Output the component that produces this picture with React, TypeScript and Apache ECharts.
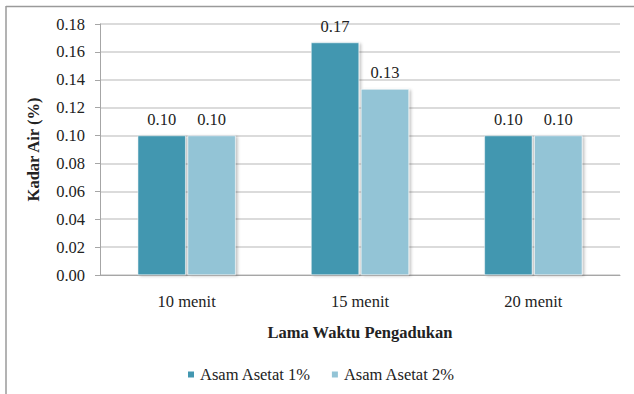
import React, { useEffect, useRef } from "react";
import * as echarts from "echarts";

// Mixing time categories and moisture content (%) for each acetic acid level
const categories = ["10 menit", "15 menit", "20 menit"];
const asamAsetat1 = [0.1, 0.1667, 0.1];
const asamAsetat2 = [0.1, 0.1333, 0.1];
const seriesNames = ["Asam Asetat 1%", "Asam Asetat 2%"];
const yTicks = { min: 0, max: 0.18, interval: 0.02 };

const FONT = "Liberation Serif";
const FS = 16.5;
const DARK = "#4397B0";
const LIGHT = "#93C4D6";

export default function App() {
  const ref = useRef<HTMLDivElement>(null);

  useEffect(() => {
    if (!ref.current) return;
    const chart = echarts.init(ref.current, undefined, { renderer: "svg" });

    const barStyle = (color: string) => ({
      color,
      borderColor: "#ffffff",
      borderWidth: 0.5,
      shadowColor: "rgba(0,0,0,0.25)",
      shadowBlur: 3,
      shadowOffsetX: 2,
      shadowOffsetY: 1,
    });

    const label = {
      show: true,
      position: "top" as const,
      distance: 8,
      fontFamily: FONT,
      fontSize: FS,
      color: "#222",
      formatter: (p: any) => Number(p.value).toFixed(2),
    };

    chart.setOption({
      animation: false,
      backgroundColor: "#ffffff",
      textStyle: { fontFamily: FONT },
      grid: { left: 100, right: 14, top: 24, bottom: 119 },
      legend: {
        data: seriesNames,
        left: 181,
        top: 361,
        itemWidth: 8,
        itemHeight: 8,
        itemGap: 19,
        icon: "rect",
        textStyle: { fontFamily: FONT, fontSize: FS, color: "#222" },
      },
      xAxis: {
        type: "category",
        data: categories,
        name: "Lama Waktu Pengadukan",
        nameLocation: "middle",
        nameGap: 49,
        nameTextStyle: { fontFamily: FONT, fontSize: FS, fontWeight: "bold", color: "#222" },
        axisLine: { lineStyle: { color: "#a6a6a6", width: 1 } },
        axisTick: { show: false },
        axisLabel: { margin: 18, fontFamily: FONT, fontSize: FS, color: "#222" },
      },
      yAxis: {
        type: "value",
        min: yTicks.min,
        max: yTicks.max,
        interval: yTicks.interval,
        name: "Kadar Air (%)",
        nameLocation: "middle",
        nameGap: 58,
        nameTextStyle: { fontFamily: FONT, fontSize: FS, fontWeight: "bold", color: "#222" },
        axisLine: { show: true, lineStyle: { color: "#a6a6a6", width: 1 } },
        axisTick: { show: true, length: 5, lineStyle: { color: "#a6a6a6" } },
        axisLabel: {
          margin: 15,
          fontFamily: FONT,
          fontSize: FS,
          color: "#222",
          formatter: (v: number) => v.toFixed(2),
        },
        splitLine: { lineStyle: { color: "#cfcfcf", width: 1.5 } },
      },
      series: [
        {
          name: seriesNames[0],
          type: "bar",
          data: asamAsetat1,
          barWidth: 48,
          barGap: "4%",
          itemStyle: barStyle(DARK),
          label,
        },
        {
          name: seriesNames[1],
          type: "bar",
          data: asamAsetat2,
          barWidth: 48,
          barGap: "4%",
          itemStyle: barStyle(LIGHT),
          label,
        },
      ],
      graphic: [
        {
          type: "line",
          shape: { x1: 6, y1: 6.5, x2: 634, y2: 6.5 },
          style: { stroke: "#9a9a9a", lineWidth: 1.5 },
          silent: true,
        },
        {
          type: "line",
          shape: { x1: 6, y1: 6, x2: 6, y2: 394 },
          style: { stroke: "#9a9a9a", lineWidth: 1.5 },
          silent: true,
        },
      ],
    });

    return () => chart.dispose();
  }, []);

  return (
    <div
      ref={ref}
      style={{ position: "fixed", left: 0, top: 0, width: 634, height: 394 }}
    />
  );
}
